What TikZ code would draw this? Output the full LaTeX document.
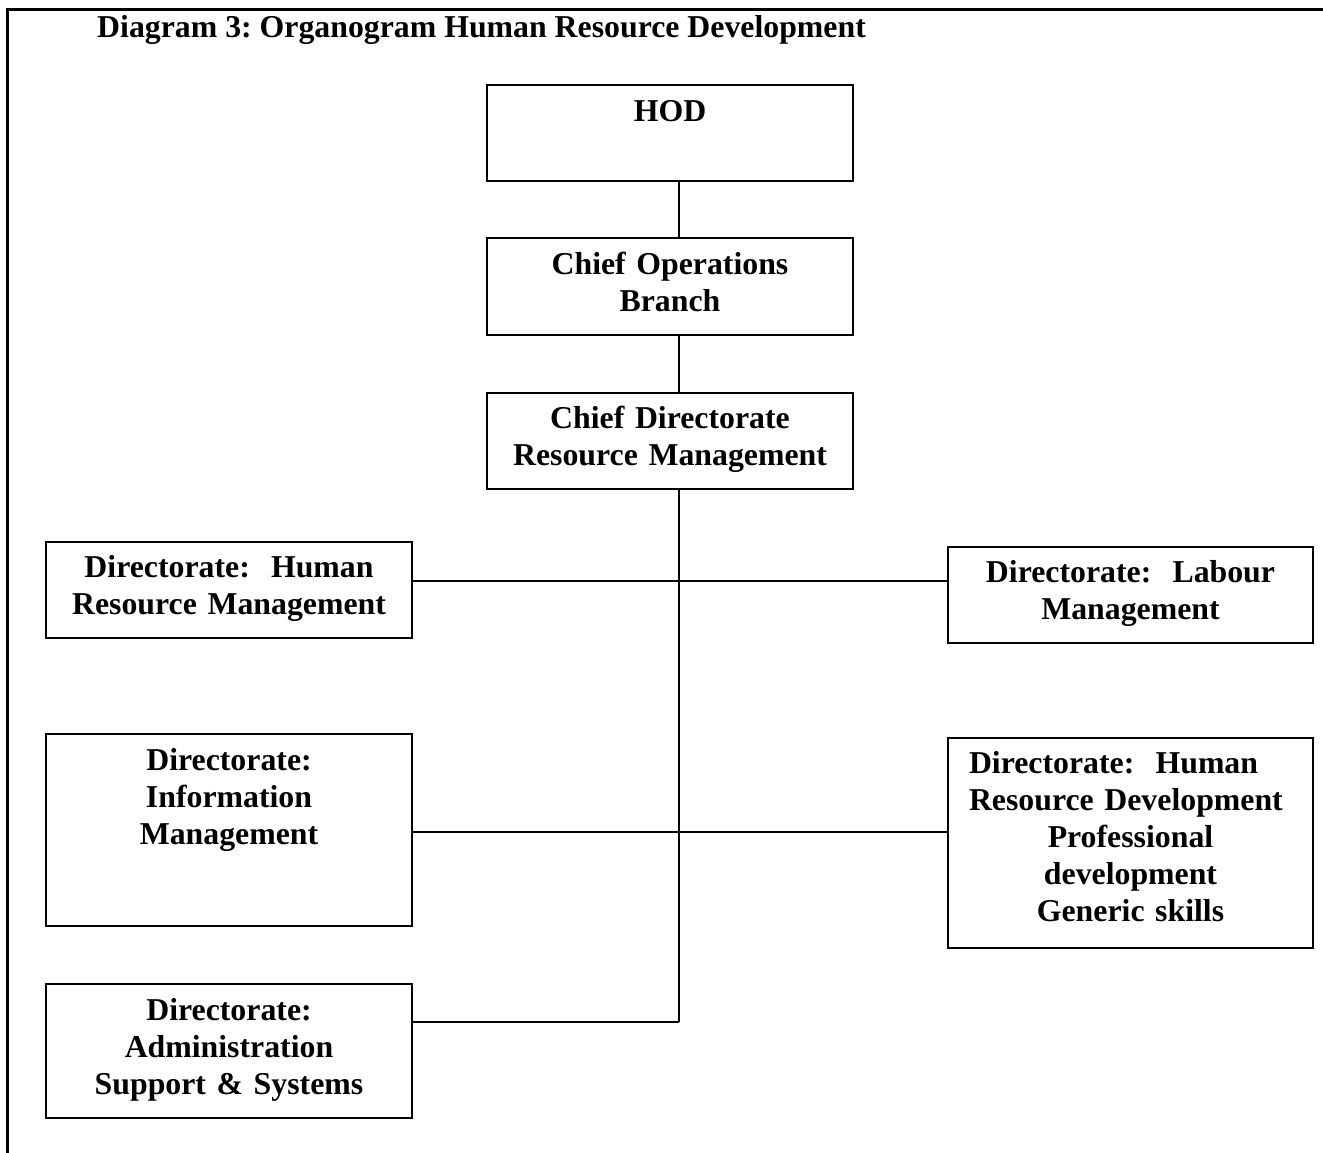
\documentclass[tikz,border=0pt]{standalone}
\usepackage{fontspec}
\setmainfont{Liberation Serif}
\usetikzlibrary{positioning}
\frenchspacing
\begin{document}
\begin{tikzpicture}[x=1pt, y=-1pt,
        box/.style={draw, line width=2pt, minimum width=366pt, inner sep=0pt},
        boxtext/.style={inner sep=0pt, text width=350pt, align=center,
            font=\fontsize{31.8}{37}\selectfont\bfseries, execute at begin node=\strut},
        link/.style={line width=2pt}]
    \useasboundingbox (0,0) rectangle (1323,1153);
    % frame and title
    \draw[line width=3pt] (7,1153) -- (7,10) -- (1323,10);
    \node[anchor=base west, inner sep=0pt, font=\fontsize{31.8}{37}\selectfont\bfseries]
        (title) at (97,38) {Diagram 3: Organogram Human Resource Development};
    % boxes
    \node[box, minimum height=96pt] (hod) at (670,133) {};
    \node[box, minimum height=97pt] (cob) at (670,286.5) {};
    \node[box, minimum height=96pt] (cdrm) at (670,441) {};
    \node[box, minimum height=96pt] (hrm) at (229,590) {};
    \node[box, minimum height=96pt, minimum width=365pt] (lab) at (1130.5,595) {};
    \node[box, minimum height=192pt] (im) at (229,830) {};
    \node[box, minimum height=210pt, minimum width=365pt] (hrd) at (1130.5,843) {};
    \node[box, minimum height=134pt] (adm) at (229,1051) {};
    % texts
    \node[boxtext, below=11pt of hod.north] (hodtext) {HOD};
    \node[boxtext, below=11pt of cob.north] (cobtext) {Chief Operations\\Branch};
    \node[boxtext, below=10pt of cdrm.north] (cdrmtext) {Chief Directorate\\Resource Management};
    \node[boxtext, below=10pt of hrm.north] (hrmtext) {Directorate:\ \ Human\\Resource Management};
    \node[boxtext, below=10pt of lab.north] (labtext) {Directorate:\ \ Labour\\Management};
    \node[boxtext, below=11pt of im.north] (imtext) {Directorate:\\Information\\Management};
    \node[boxtext, text width=323pt, align=left, below=10pt of hrd.north] (hrdtext)
        {Directorate:\ \ Human\\Resource Development\par
         \centering Professional\\development\\Generic skills\par};
    \node[boxtext, below=11pt of adm.north] (admtext) {Directorate:\\Administration\\Support \& Systems};
    % connectors
    \coordinate (j1) at (679,581);
    \coordinate (j2) at (679,832);
    \coordinate (j3) at (679,1022);
    \draw[link] (hod.south -| j1) -- (cob.north -| j1);
    \draw[link] (cob.south -| j1) -- (cdrm.north -| j1);
    \draw[link] (cdrm.south -| j1) -- (j3);
    \draw[link] (hrm.east |- j1) -- (lab.west |- j1);
    \draw[link] (im.east |- j2) -- (hrd.west |- j2);
    \draw[link] (adm.east |- j3) -- (j3);
\end{tikzpicture}
\end{document}
